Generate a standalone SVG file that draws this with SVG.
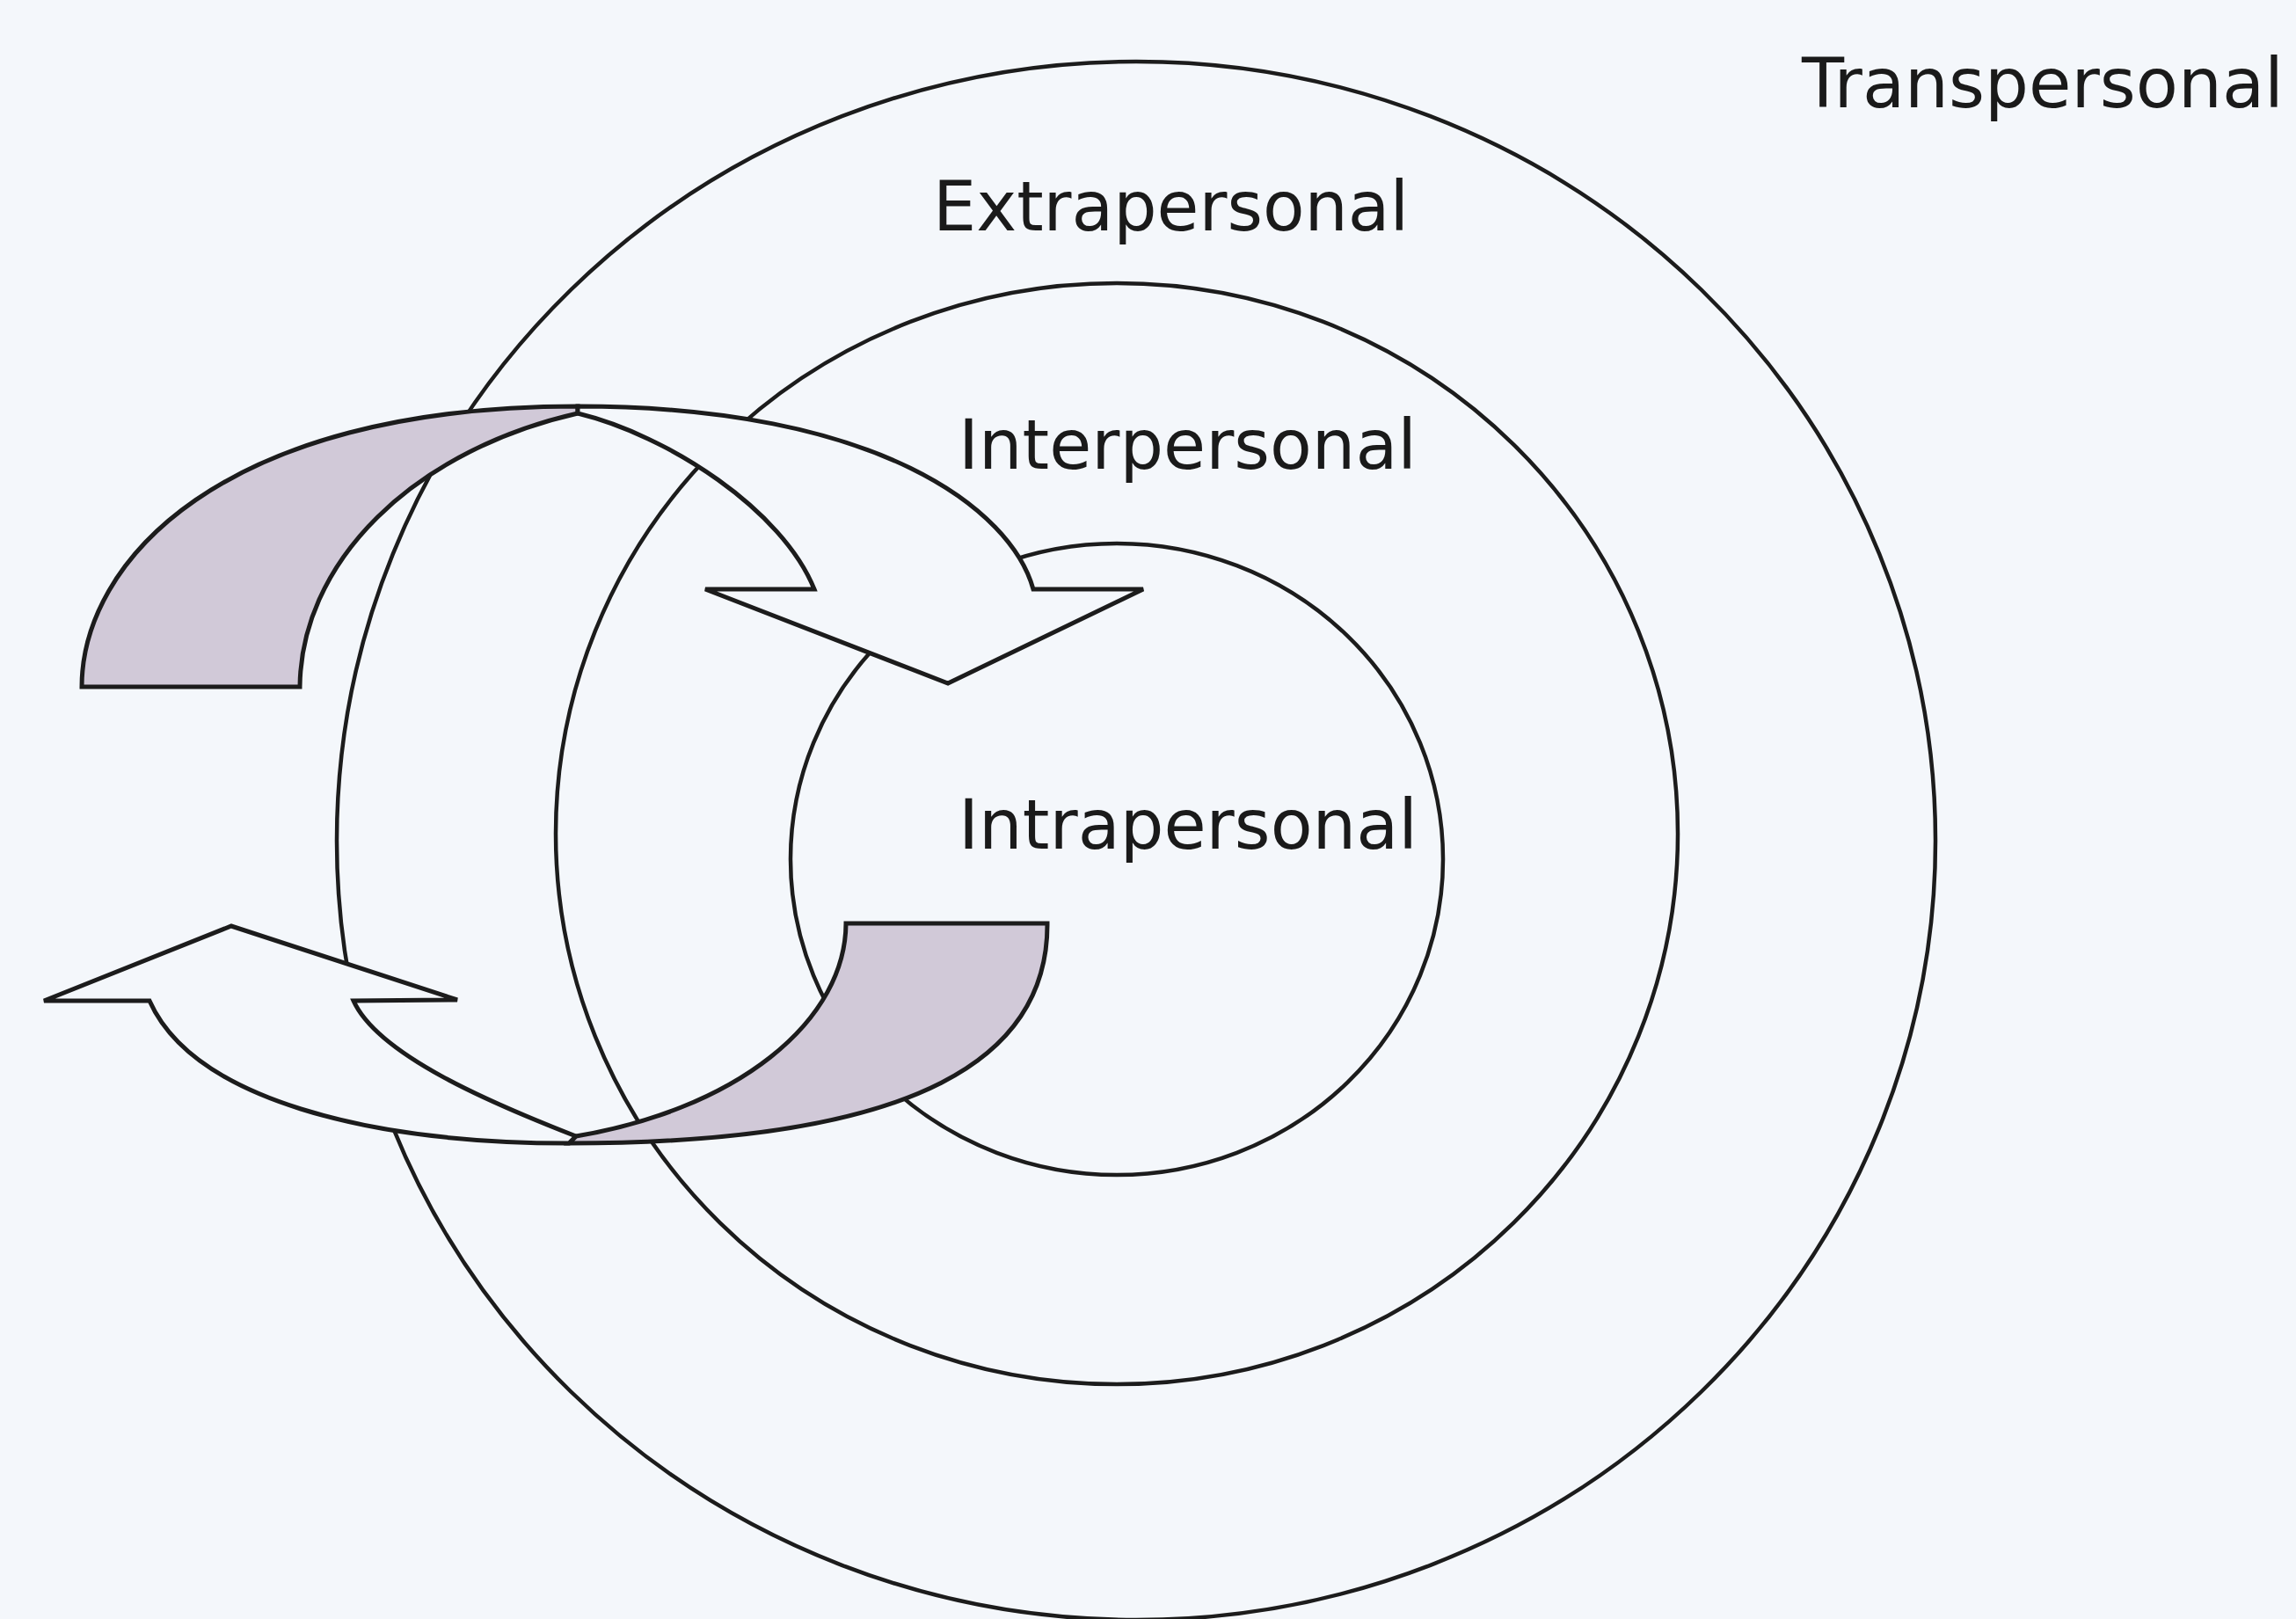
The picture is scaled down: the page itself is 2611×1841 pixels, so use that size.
<svg xmlns="http://www.w3.org/2000/svg" width="2611" height="1841" viewBox="0 0 2611 1841">
  <style>
    .ring { fill: none; stroke: #1c1c1c; stroke-width: 4.5; }
    .band-w { fill: #f4f7fb; stroke: #1c1c1c; stroke-width: 5; stroke-linejoin: miter; }
    .band-g { fill: #d1c9d8; stroke: #1c1c1c; stroke-width: 5; stroke-linejoin: miter; }
    .label { font-family: "DejaVu Sans", Verdana, sans-serif; font-size: 79px; fill: #1a1a1a; }
  </style>
  <rect x="0" y="0" width="2611" height="1841" fill="#f4f7fb"/>

  <g id="transpersonal">
    <ellipse class="ring" cx="1292" cy="956" rx="909" ry="886"/>
    <text class="label" x="2049" y="122" textLength="548" lengthAdjust="spacingAndGlyphs">Transpersonal</text>
  </g>
  <g id="extrapersonal">
    <ellipse class="ring" cx="1270" cy="948" rx="638" ry="626"/>
    <text class="label" x="1061" y="262" textLength="541" lengthAdjust="spacingAndGlyphs">Extrapersonal</text>
  </g>
  <g id="interpersonal">
    <ellipse class="ring" cx="1270" cy="977" rx="371" ry="359"/>
    <text class="label" x="1090" y="533" textLength="521" lengthAdjust="spacingAndGlyphs">Interpersonal</text>
  </g>
  <g id="intrapersonal">
    <text class="label" x="1090" y="965" textLength="522" lengthAdjust="spacingAndGlyphs">Intrapersonal</text>
  </g>

  <g id="connectors">
    <g id="arrow-top">
      <path class="band-g" d="M93,781 L341,781 A450,328 0 0 1 657,470 L657,462 C250,462 93,640 93,781 Z"/>
      <path class="band-w" d="M657,470 C760,495 890,580 926,670 L802,670 L1078,777 L1300,670 L1175,670 C1150,580 1000,462 657,462 Z"/>
    </g>
    <g id="arrow-bottom">
      <path class="band-g" d="M962,1050 L1191,1050 C1192,1200 1050,1300 647,1300 L655,1292 A420,252 0 0 0 962,1050 Z"/>
      <path class="band-w" d="M655,1292 C560,1255 430,1200 402,1138 L520,1137 L263,1053 L50,1138 L170,1138 C220,1250 420,1300 647,1300 Z"/>
    </g>
  </g>
</svg>
